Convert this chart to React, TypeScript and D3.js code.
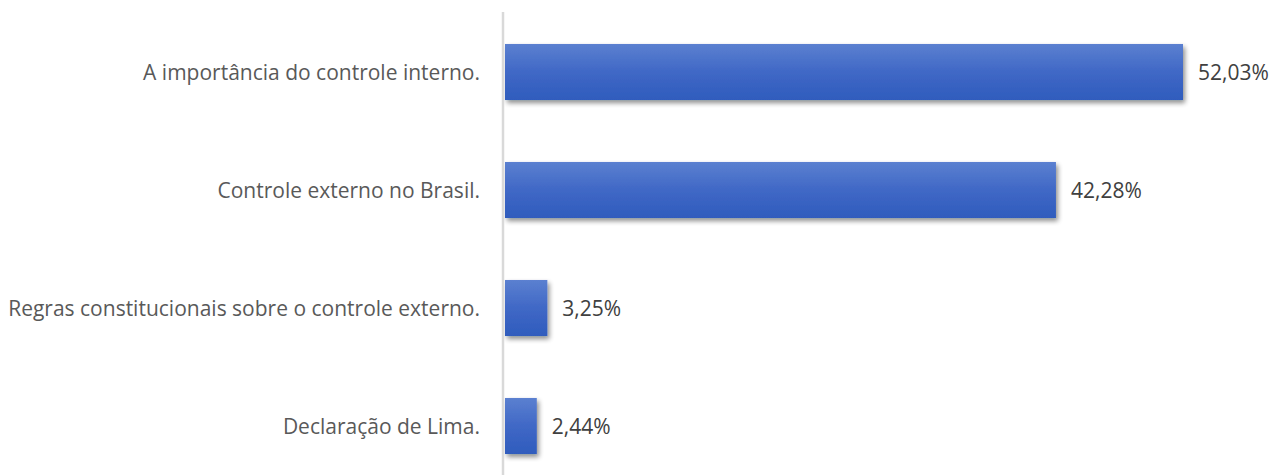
import React from "react";
import * as d3 from "d3";

const categories = [
  "A importância do controle interno.",
  "Controle externo no Brasil.",
  "Regras constitucionais sobre o controle externo.",
  "Declaração de Lima.",
];
const values = [52.03, 42.28, 3.25, 2.44];
const valueLabels = ["52,03%", "42,28%", "3,25%", "2,44%"];

const W = 1273;
const H = 475;

export default function App() {
  const x = d3.scaleLinear().domain([0, 52.03]).range([505, 1183]);
  const y = d3
    .scaleBand<string>()
    .domain(categories)
    .range([13, 485])
    .paddingInner(0.525)
    .paddingOuter(0.2625);
  return (
    <svg
      width={W}
      height={H}
      style={{ position: "absolute", left: 0, top: 0, background: "#fff" }}
      fontFamily="'Open Sans', sans-serif"
    >
      <defs>
        <linearGradient id="barGrad" x1="0" y1="0" x2="0" y2="1">
          <stop offset="0%" stopColor="#5b80d0" />
          <stop offset="50%" stopColor="#4068c6" />
          <stop offset="100%" stopColor="#2f5cbd" />
        </linearGradient>
        <filter id="shadow" x="-10%" y="-20%" width="130%" height="160%">
          <feGaussianBlur in="SourceAlpha" stdDeviation="2.5" />
          <feOffset dx="2" dy="3" result="b" />
          <feComponentTransfer>
            <feFuncA type="linear" slope="0.45" />
          </feComponentTransfer>
          <feMerge>
            <feMergeNode />
            <feMergeNode in="SourceGraphic" />
          </feMerge>
        </filter>
      </defs>
      {categories.map((c, i) => {
        const yy = y(c)!;
        const bw = y.bandwidth();
        return (
          <g key={c}>
            <rect
              x={x(0)}
              y={yy}
              width={x(values[i]) - x(0)}
              height={bw}
              fill="url(#barGrad)"
              filter="url(#shadow)"
            />
            <text
              x={480}
              y={yy + bw / 2}
              textAnchor="end"
              dominantBaseline="central"
              fontSize={21}
              fill="#595959"
            >
              {c}
            </text>
            <text
              x={x(values[i]) + 15}
              y={yy + bw / 2}
              dominantBaseline="central"
              fontSize={21}
              fill="#404040"
            >
              {valueLabels[i]}
            </text>
          </g>
        );
      })}
      <line x1={503} x2={503} y1={12} y2={H} stroke="#d9d9d9" strokeWidth={2.5} />
    </svg>
  );
}
